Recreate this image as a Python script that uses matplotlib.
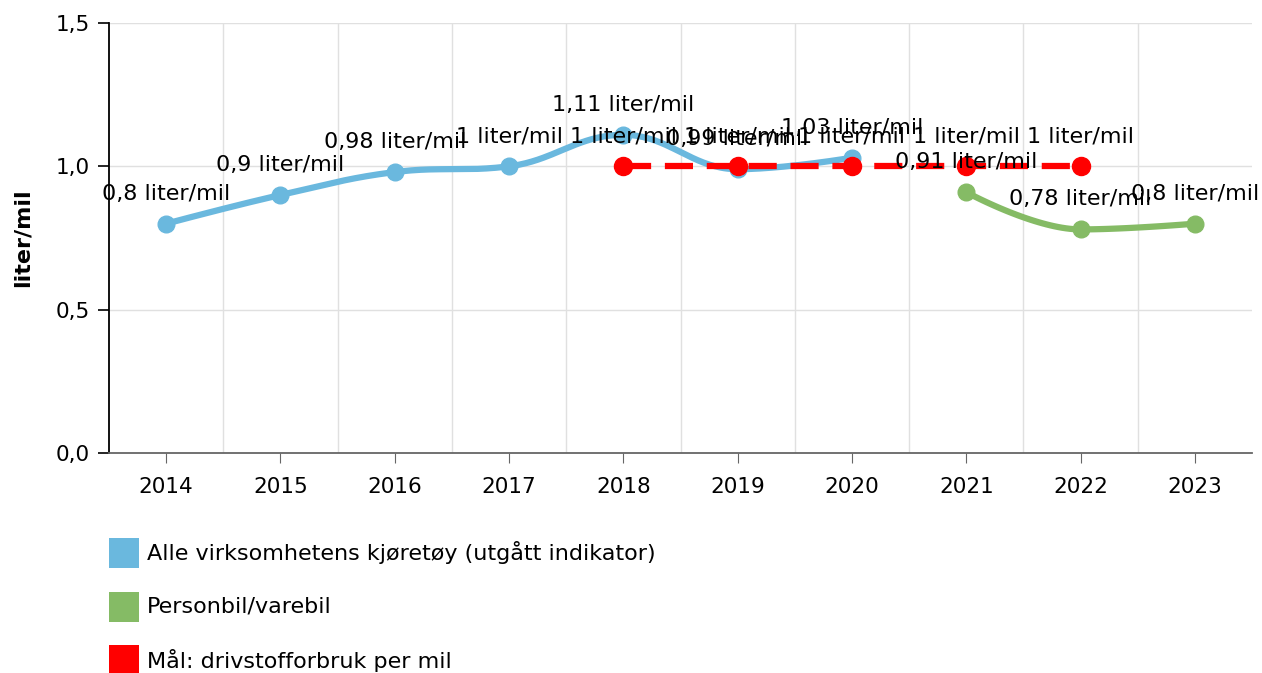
import numpy as np
import matplotlib
matplotlib.use("Agg")
import matplotlib.pyplot as plt
from matplotlib.patches import Rectangle

# data
years = ["2014", "2015", "2016", "2017", "2018", "2019", "2020", "2021", "2022", "2023"]
alle_years = ["2014", "2015", "2016", "2017", "2018", "2019", "2020"]
alle_vals = [0.8, 0.9, 0.98, 1.0, 1.11, 0.99, 1.03]
bil_years = ["2021", "2022", "2023"]
bil_vals = [0.91, 0.78, 0.8]
maal_years = ["2018", "2019", "2020", "2021", "2022"]
maal_vals = [1.0, 1.0, 1.0, 1.0, 1.0]

names = ["Alle virksomhetens kjøretøy (utgått indikator)", "Personbil/varebil",
         "Mål: drivstofforbruk per mil"]
colors = ["#6ab8de", "#85bb65", "#ff0000"]

FS = 15.5
FS_TXT = 16


def fmt(v):
    s = ("%g" % v).replace(".", ",")
    return s + " liter/mil"


def spline(xs, ys, n=40):
    """ highcharts-aktig spline mellom punktene """
    xs = np.asarray(xs, float)
    ys = np.asarray(ys, float)
    sm = 1.5
    den = sm + 1
    left = [(x, y) for x, y in zip(xs, ys)]
    right = [(x, y) for x, y in zip(xs, ys)]
    for i in range(1, len(xs) - 1):
        px, py = xs[i], ys[i]
        lx, ly = xs[i - 1], ys[i - 1]
        nx, ny = xs[i + 1], ys[i + 1]
        lcx = (sm * px + lx) / den
        lcy = (sm * py + ly) / den
        rcx = (sm * px + nx) / den
        rcy = (sm * py + ny) / den
        if rcx != lcx:
            corr = (rcy - lcy) * (rcx - px) / (rcx - lcx) + py - rcy
            lcy += corr
            rcy += corr
        if lcy > ly and lcy > py:
            lcy = max(ly, py)
            rcy = 2 * py - lcy
        elif lcy < ly and lcy < py:
            lcy = min(ly, py)
            rcy = 2 * py - lcy
        if rcy > ny and rcy > py:
            rcy = max(ny, py)
            lcy = 2 * py - rcy
        elif rcy < ny and rcy < py:
            rcy = min(ny, py)
            lcy = 2 * py - rcy
        left[i] = (lcx, lcy)
        right[i] = (rcx, rcy)
    t = np.linspace(0, 1, n)[:, None]
    out = []
    for i in range(len(xs) - 1):
        p0 = np.array([xs[i], ys[i]])
        p1 = np.array(right[i])
        p2 = np.array(left[i + 1])
        p3 = np.array([xs[i + 1], ys[i + 1]])
        b = ((1 - t) ** 3) * p0 + 3 * ((1 - t) ** 2) * t * p1 + 3 * (1 - t) * t ** 2 * p2 + t ** 3 * p3
        out.append(b)
    b = np.vstack(out)
    return b[:, 0], b[:, 1]


fig = plt.figure(figsize=(12.62, 6.73), dpi=100)
ax = fig.add_axes([109 / 1262, 1 - 453 / 673, (1252 - 109) / 1262, (453 - 23) / 673])

xi = {y: i for i, y in enumerate(years)}

# blå og grønn linje
for yrs, vals, col in [(alle_years, alle_vals, colors[0]), (bil_years, bil_vals, colors[1])]:
    x = [xi[y] for y in yrs]
    sx, sy = spline(x, vals)
    ax.plot(sx, sy, color=col, lw=4.5, solid_capstyle="round", zorder=3)
    ax.plot(x, vals, "o", color=col, ms=12, zorder=4)

# mål
xm = [xi[y] for y in maal_years]
ax.plot(xm, maal_vals, color=colors[2], lw=4.5, dashes=(4.5, 2.2), zorder=5)
ax.plot(xm, maal_vals, "o", color=colors[2], ms=13, zorder=6)

# etiketter
for yrs, vals in [(alle_years, alle_vals), (bil_years, bil_vals), (maal_years, maal_vals)]:
    for y, v in zip(yrs, vals):
        ax.annotate(fmt(v), (xi[y], v), xytext=(0, 30), textcoords="offset pixels",
                    ha="center", va="center", fontsize=FS_TXT, color="black", zorder=10)

ax.set_xlim(-0.5, len(years) - 0.5)
ax.set_ylim(0, 1.5)
ax.set_xticks(range(len(years)))
ax.set_xticklabels(years)
ax.set_xticks(np.arange(0.5, len(years) - 0.5, 1), minor=True)
ax.set_yticks([0, 0.5, 1.0, 1.5])
ax.set_yticklabels(["0,0", "0,5", "1,0", "1,5"])
ax.tick_params(axis="x", which="major", length=7, color="#666666", labelsize=FS, pad=10)
ax.tick_params(axis="x", which="minor", length=0)
ax.tick_params(axis="y", length=8, width=1.2, labelsize=FS, pad=6)
ax.grid(True, axis="x", which="minor", color="#e0e0e0", lw=1)
ax.grid(True, axis="y", which="major", color="#e0e0e0", lw=1)
ax.grid(False, axis="x", which="major")
ax.set_axisbelow(True)
for s in ["top", "right"]:
    ax.spines[s].set_visible(False)
ax.spines["left"].set_color("black")
ax.spines["left"].set_linewidth(1.3)
ax.spines["bottom"].set_color("#666666")
ax.spines["bottom"].set_linewidth(1.3)
ax.set_ylabel("liter/mil", fontsize=FS_TXT, fontweight="bold", labelpad=16)

# legende under figuren
rows = [553, 607, 660]
for name, col, yc in zip(names, colors, rows):
    fig.add_artist(Rectangle((109 / 1262, 1 - (yc + 15) / 673), 30 / 1262, 30 / 673,
                             transform=fig.transFigure, facecolor=col, edgecolor="none"))
    fig.text(147 / 1262, 1 - yc / 673, name, fontsize=FS_TXT, va="center", ha="left")

fig.savefig("out.png", dpi=100)
